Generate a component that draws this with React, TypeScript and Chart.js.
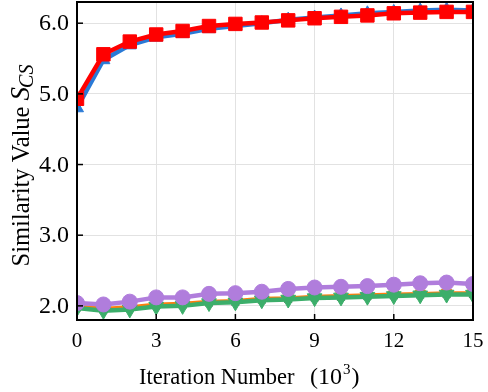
import React, { useEffect, useRef } from "react";
import { Chart, registerables } from "chart.js";

Chart.register(...registerables);

const iterations = [0, 1, 2, 3, 4, 5, 6, 7, 8, 9, 10, 11, 12, 13, 14, 15];
const redSquares = [4.93, 5.56, 5.74, 5.84, 5.89, 5.96, 5.99, 6.01, 6.04, 6.07, 6.09, 6.11, 6.14, 6.15, 6.16, 6.16];
const blueTriangles = [4.8, 5.48, 5.69, 5.8, 5.85, 5.92, 5.96, 6.0, 6.05, 6.08, 6.11, 6.14, 6.16, 6.18, 6.19, 6.18];
const purpleCircles = [2.04, 2.02, 2.06, 2.12, 2.12, 2.17, 2.18, 2.2, 2.24, 2.26, 2.27, 2.28, 2.3, 2.32, 2.33, 2.31];
const greenTriangles = [1.97, 1.93, 1.95, 1.99, 2.0, 2.04, 2.05, 2.08, 2.09, 2.11, 2.12, 2.13, 2.14, 2.15, 2.16, 2.16];
const orangeLine = [2.0, 1.97, 1.99, 2.03, 2.04, 2.07, 2.08, 2.11, 2.12, 2.14, 2.15, 2.16, 2.17, 2.18, 2.19, 2.19];
const grayCross = [1.98, 1.95, 1.97, 2.01, 2.02, 2.05, 2.06, 2.09, 2.1, 2.12, 2.13, 2.14, 2.15, 2.16, 2.17, 2.17];
const yTicks = [2, 3, 4, 5, 6];
const xTicks = [0, 3, 6, 9, 12, 15];

const FONT = "'Liberation Serif', 'DejaVu Serif', serif";

const pts = (vals: number[]) => vals.map((v, i) => ({ x: iterations[i], y: v }));

const framePlugin = {
  id: "frame",
  afterDatasetsDraw(chart: any) {
    const { ctx, chartArea: a, scales } = chart;
    ctx.save();
    ctx.strokeStyle = "#000";
    ctx.lineWidth = 1.5;
    xTicks.forEach((t) => {
      const x = scales.x.getPixelForValue(t);
      ctx.beginPath();
      ctx.moveTo(x, a.bottom);
      ctx.lineTo(x, a.bottom - 6);
      ctx.stroke();
    });
    yTicks.forEach((t) => {
      const y = scales.y.getPixelForValue(t);
      ctx.beginPath();
      ctx.moveTo(a.left, y);
      ctx.lineTo(a.left + 6, y);
      ctx.stroke();
    });
    ctx.lineWidth = 2;
    ctx.strokeRect(a.left, a.top, a.right - a.left, a.bottom - a.top);
    ctx.restore();
  },
  afterDraw(chart: any) {
    const { ctx, chartArea: a, scales } = chart;
    ctx.save();
    ctx.fillStyle = "#000";
    // tick labels
    ctx.font = `24px ${FONT}`;
    ctx.textBaseline = "middle";
    ctx.textAlign = "right";
    yTicks.forEach((t) => {
      ctx.fillText(t.toFixed(1), a.left - 8, scales.y.getPixelForValue(t) + 1);
    });
    ctx.font = `21px ${FONT}`;
    ctx.textBaseline = "alphabetic";
    ctx.textAlign = "center";
    xTicks.forEach((t) => {
      ctx.fillText(String(t), scales.x.getPixelForValue(t), a.bottom + 27);
    });

    // x title: "Iteration Number (10^3)"
    const fs = 22.5;
    const y = 384;
    ctx.textAlign = "left";
    ctx.font = `${fs}px ${FONT}`;
    ctx.fillText("Iteration Number", 139, y);
    ctx.font = `24px ${FONT}`;
    let x = 310;
    const w1 = ctx.measureText("(10").width;
    ctx.fillText("(10", x, y);
    x += w1 + 1;
    ctx.font = `15px ${FONT}`;
    ctx.fillText("3", x, y - 10);
    x += ctx.measureText("3").width + 1;
    ctx.font = `24px ${FONT}`;
    ctx.fillText(")", x, y);

    // y title
    const ys = 24.5;
    ctx.textAlign = "left";
    ctx.translate(29, 165);
    ctx.rotate(-Math.PI / 2);
    const q1 = "Similarity Value ";
    const q2 = "S";
    const q3 = "CS";
    ctx.font = `${ys}px ${FONT}`;
    const v1 = ctx.measureText(q1).width;
    ctx.font = `italic 27px ${FONT}`;
    const v2 = ctx.measureText(q2).width;
    ctx.font = `italic 20px ${FONT}`;
    const v3 = ctx.measureText(q3).width;
    let yx = -(v1 + v2 + v3) / 2;
    ctx.font = `${ys}px ${FONT}`;
    ctx.fillText(q1, yx, 0);
    yx += v1;
    ctx.font = `italic 27px ${FONT}`;
    ctx.fillText(q2, yx, 0);
    yx += v2 - 1;
    ctx.font = `italic 20px ${FONT}`;
    ctx.fillText(q3, yx, 4);
    ctx.restore();
  },
};

export default function App() {
  const ref = useRef<HTMLCanvasElement | null>(null);
  useEffect(() => {
    document.body.style.margin = "0";
    const ds = (label: string, data: number[], color: string, style: any, radius: number, extra: any = {}) => ({
      label,
      data: pts(data),
      borderColor: color,
      backgroundColor: color,
      borderWidth: 4.5,
      pointStyle: style,
      pointRadius: radius,
      pointBorderWidth: 1,
      pointBorderColor: color,
      pointBackgroundColor: color,
      clip: 0,
      ...extra,
    });
    const chart = new Chart(ref.current!, {
      type: "line",
      data: {
        datasets: [
          ds("purple", purpleCircles, "#b07ddc", "circle", 7.5),
          ds("red", redSquares, "#ff0000", "rect", 9.5),
          ds("blue", blueTriangles, "#2a7ad6", "triangle", 7.5),
          ds("green", greenTriangles, "#3cae6a", "triangle", 8.5, { pointRotation: 180 }),
          ds("orange", orangeLine, "#ff7f0e", "triangle", 6, { borderWidth: 2.5, pointRotation: 180 }),
          ds("gray", grayCross, "#555555", "crossRot", 5.5, { borderWidth: 2, pointBorderWidth: 1.2 }),
        ],
      },
      options: {
        animation: false,
        responsive: false,
        maintainAspectRatio: false,
        layout: { autoPadding: false, padding: { top: 2, right: 15, left: 0, bottom: 0 } },
        plugins: { legend: { display: false }, tooltip: { enabled: false } },
        elements: { line: { tension: 0 } },
        scales: {
          x: {
            type: "linear",
            min: 0,
            max: 15,
            afterBuildTicks: (s: any) => {
              s.ticks = xTicks.map((v) => ({ value: v }));
            },
            afterFit: (s: any) => {
              s.height = 72;
            },
            grid: { color: "#e2e2e2", lineWidth: 1, drawTicks: false },
            border: { display: false },
            ticks: { display: false },
          },
          y: {
            type: "linear",
            min: 1.8,
            max: 6.3,
            afterBuildTicks: (s: any) => {
              s.ticks = yTicks.map((v) => ({ value: v }));
            },
            afterFit: (s: any) => {
              s.width = 77;
            },
            grid: { color: "#e2e2e2", lineWidth: 1, drawTicks: false },
            border: { display: false },
            ticks: { display: false },
          },
        },
      },
      plugins: [framePlugin],
    });
    return () => chart.destroy();
  }, []);
  return (
    <div style={{ position: "absolute", left: 0, top: 0, width: 488, height: 392 }}>
      <canvas ref={ref} width={488} height={392} style={{ width: 488, height: 392 }} />
    </div>
  );
}
